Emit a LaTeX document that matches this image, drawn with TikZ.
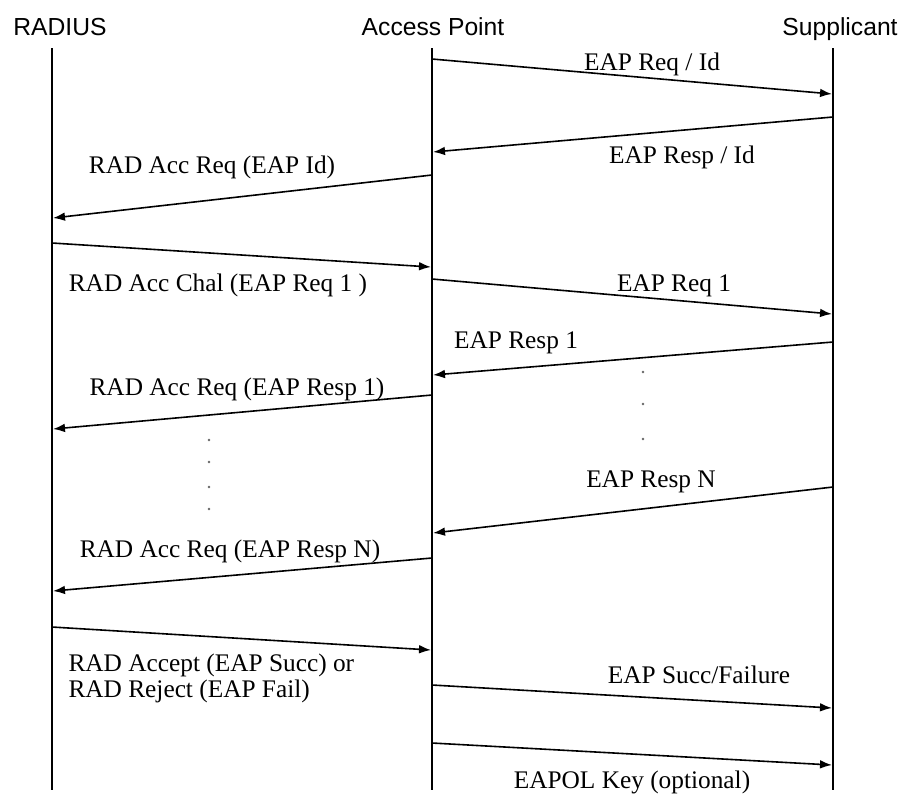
\documentclass[tikz,border=0pt]{standalone}
\usepackage{fontspec}
\setmainfont{Liberation Serif}
\setsansfont{Liberation Sans}
\usetikzlibrary{arrows.meta}

\tikzset{every picture/.style={line width=0.75pt}}
\tikzset{
  party/.style={font=\sffamily\fontsize{18.5}{22}\selectfont, anchor=base, inner sep=0pt},
  msglabel/.style={font=\rmfamily\fontsize{19}{19}\selectfont, anchor=base, inner sep=0pt},
  lifeline/.style={line width=2.2pt},
  msg/.style={line width=1.2pt, -{Latex[length=9pt,width=6.5pt]}},
  gap/.style={fill=black!60, draw=none}
}

\begin{document}
\begin{tikzpicture}[x=0.75pt,y=0.75pt,yscale=-1,xscale=1]
\useasboundingbox (0,0) rectangle (905,794);

% Parties
\node[party] (radius) at (60,35) {RADIUS};
\node[party] (ap) at (433,35) {Access Point};
\node[party] (supp) at (840,35) {Supplicant};

%Lifelines
\coordinate (radTop) at (52,48);
\coordinate (radBot) at (52,790);
\coordinate (apTop) at (432,48);
\coordinate (apBot) at (432,790);
\coordinate (suppTop) at (833,48);
\coordinate (suppBot) at (833,790);
\draw [lifeline] (radTop) -- (radBot) ;
\draw [line width=1.1pt] (apTop) -- (apBot) ;
\draw [lifeline] (suppTop) -- (suppBot) ;

%Straight Lines: EAP Req / Id
\coordinate (reqIdS) at (432,59);
\coordinate (reqIdE) at (832,94);
\draw [msg] (reqIdS) -- (reqIdE) ;
%Straight Lines: EAP Resp / Id
\coordinate (respIdS) at (833,117);
\coordinate (respIdE) at (433,152);
\draw [msg] (respIdS) -- (respIdE) ;
%Straight Lines: RAD Acc Req (EAP Id)
\coordinate (accIdS) at (432,175);
\coordinate (accIdE) at (53,218);
\draw [msg] (accIdS) -- (accIdE) ;
%Straight Lines: RAD Acc Chal
\coordinate (chalS) at (52,243);
\coordinate (chalE) at (431,267);
\draw [msg] (chalS) -- (chalE) ;
%Straight Lines: EAP Req 1
\coordinate (reqOneS) at (432,279);
\coordinate (reqOneE) at (832,314);
\draw [msg] (reqOneS) -- (reqOneE) ;
%Straight Lines: EAP Resp 1
\coordinate (respOneS) at (833,342);
\coordinate (respOneE) at (433,375);
\draw [msg] (respOneS) -- (respOneE) ;
%Straight Lines: RAD Acc Req (EAP Resp 1)
\coordinate (accOneS) at (432,395);
\coordinate (accOneE) at (53,429);
\draw [msg] (accOneS) -- (accOneE) ;
%Straight Lines: EAP Resp N
\coordinate (respNS) at (833,487);
\coordinate (respNE) at (433,533);
\draw [msg] (respNS) -- (respNE) ;
%Straight Lines: RAD Acc Req (EAP Resp N)
\coordinate (accNS) at (432,558);
\coordinate (accNE) at (53,591);
\draw [msg] (accNS) -- (accNE) ;
%Straight Lines: RAD Accept / Reject
\coordinate (acceptS) at (52,627);
\coordinate (acceptE) at (431,650);
\draw [msg] (acceptS) -- (acceptE) ;
%Straight Lines: EAP Succ/Failure
\coordinate (succS) at (432,685);
\coordinate (succE) at (832,708);
\draw [msg] (succS) -- (succE) ;
%Straight Lines: EAPOL Key
\coordinate (keyS) at (432,743);
\coordinate (keyE) at (832,765);
\draw [msg] (keyS) -- (keyE) ;

%Dots
\fill [gap] (209,440) circle (1.3) ;
\fill [gap] (209,462) circle (1.3) ;
\fill [gap] (209,487) circle (1.3) ;
\fill [gap] (209,509) circle (1.3) ;
\fill [gap] (643,372) circle (1.3) ;
\fill [gap] (643,404) circle (1.3) ;
\fill [gap] (643,439) circle (1.3) ;

% Text Node
\node[msglabel] (lReqId) at (652,70) {EAP Req / Id};
% Text Node
\node[msglabel] (lRespId) at (682,163) {EAP Resp / Id};
% Text Node
\node[msglabel] (lAccId) at (212,173) {RAD Acc Req (EAP Id)};
% Text Node
\node[msglabel] (lChal) at (218,291) {RAD Acc Chal (EAP Req 1 )};
% Text Node
\node[msglabel] (lReqOne) at (674,291) {EAP Req 1};
% Text Node
\node[msglabel] (lRespOne) at (516,348) {EAP Resp 1};
% Text Node
\node[msglabel] (lAccOne) at (237,395) {RAD Acc Req (EAP Resp 1)};
% Text Node
\node[msglabel] (lRespN) at (651,487) {EAP Resp N};
% Text Node
\node[msglabel] (lAccN) at (230,557) {RAD Acc Req (EAP Resp N)};
% Text Node
\node[msglabel, anchor=base west, align=left] (lAccept) at (68,697) {RAD Accept (EAP Succ) or\\RAD Reject (EAP Fail)};
% Text Node
\node[msglabel] (lSucc) at (699,683) {EAP Succ/Failure};
% Text Node
\node[msglabel] (lKey) at (632,788) {EAPOL Key (optional)};

\end{tikzpicture}
\end{document}
